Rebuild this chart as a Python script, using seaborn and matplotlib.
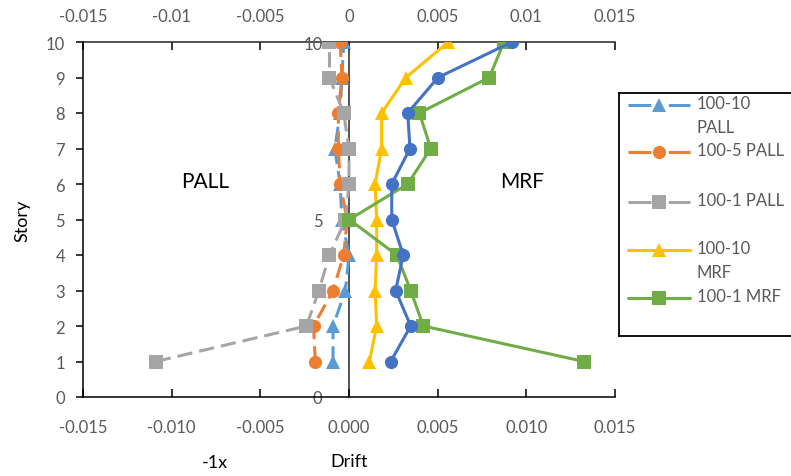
import matplotlib
matplotlib.use("Agg")
import matplotlib.pyplot as plt
import numpy as np
import seaborn as sns
from matplotlib.ticker import FuncFormatter

# story levels
stories = [1, 2, 3, 4, 5, 6, 7, 8, 9, 10]

# PALL drifts (plotted as -1x on the left side)
pall_100_10 = [0.0009, 0.0009, 0.0002, 0.0000, 0.0004, 0.0005, 0.0008, 0.0005, 0.0004, 0.0003]
pall_100_5 = [0.0019, 0.0020, 0.0009, 0.0003, 0.0001, 0.0005, 0.0006, 0.0006, 0.0004, 0.0005]
pall_100_1 = [0.0109, 0.0024, 0.0017, 0.0011, 0.0002, 0.0000, 0.0000, 0.0003, 0.0011, 0.0011]

# MRF drifts
mrf_100_10 = [0.00115, 0.00156, 0.00147, 0.00156, 0.00156, 0.00147, 0.00184, 0.00184, 0.00321, 0.0056]
mrf_100_5 = [0.00235, 0.00348, 0.00263, 0.00306, 0.00241, 0.00241, 0.00344, 0.00331, 0.00502, 0.00919]
mrf_100_1 = [0.01325, 0.00419, 0.00348, 0.00269, 0.00002, 0.00331, 0.00461, 0.00397, 0.00791, 0.00874]

x_ticks = [-0.015, -0.01, -0.005, 0.0, 0.005, 0.01, 0.015]
story_ticks = list(range(0, 11))
sec_story_ticks = [0, 5, 10]

legend_labels = ["100-10\nPALL", "100-5 PALL", "100-1 PALL", "100-10\nMRF", "100-1 MRF"]

C_LBLUE = "#5B9BD5"
C_ORANGE = "#ED7D31"
C_GRAY = "#A5A5A5"
C_YELLOW = "#FFC000"
C_GREEN = "#70AD47"
C_BLUE = "#4472C4"
TXT = "#595959"
DASH = (0, (5, 2.3))
FS = 12

sns.set_style("white")
plt.rcParams["font.family"] = ["Lato", "DejaVu Sans"]

fig = plt.figure(figsize=(7.91, 4.77), dpi=100)
ax = fig.add_axes([83 / 791, 1 - 398 / 477, (615 - 83) / 791, (398 - 43) / 477])

series = [
    (-np.array(pall_100_10), C_LBLUE, "^", DASH),
    (-np.array(pall_100_5), C_ORANGE, "o", DASH),
    (-np.array(pall_100_1), C_GRAY, "s", DASH),
    (np.array(mrf_100_10), C_YELLOW, "^", "-"),
    (np.array(mrf_100_1), C_GREEN, "s", "-"),
    (np.array(mrf_100_5), C_BLUE, "o", "-"),
]
for i, (vals, color, marker, ls) in enumerate(series):
    sns.lineplot(
        x=vals, y=stories, orient="y", sort=False, errorbar=None, ax=ax,
        color=color, marker=marker, markersize=9.5, markeredgewidth=0,
        linewidth=2.2, linestyle=ls, zorder=3 + i,
    )

ax.set_xlim(-0.015, 0.015)
ax.set_ylim(0, 10)
ax.set_xticks(x_ticks)
ax.set_yticks(story_ticks)
ax.xaxis.set_major_formatter(FuncFormatter(lambda v, p: f"{v:.3f}"))
for s in ["left", "bottom"]:
    ax.spines[s].set_color("black")
    ax.spines[s].set_linewidth(1.1)
ax.spines["right"].set_visible(False)
ax.spines["top"].set_visible(False)
ax.tick_params(axis="x", direction="in", length=6, width=1.1, color="black",
               labelcolor=TXT, labelsize=FS, pad=16, bottom=True)
ax.tick_params(axis="y", direction="out", length=5, width=1.1, color="black",
               labelcolor=TXT, labelsize=FS, pad=8, left=True)
ax.set_xlabel("Drift", fontsize=13, color="black", labelpad=13)
ax.set_ylabel("Story", fontsize=13, color="black", labelpad=11)


def general(v, p):
    s = f"{round(v, 6):g}"
    return "0" if s in ("0", "-0") else s


top = ax.secondary_xaxis("top")
top.set_xticks(x_ticks)
top.xaxis.set_major_formatter(FuncFormatter(general))
top.spines["top"].set_linewidth(1.1)
top.tick_params(direction="in", length=6, width=1.1, color="black",
                labelcolor=TXT, labelsize=FS, pad=13)

mid = ax.secondary_yaxis(0.5)
mid.set_alignment("left")
mid.set_yticks(sec_story_ticks)
mid.spines["left"].set_linewidth(1.1)
mid.tick_params(length=0, labelcolor=TXT, labelsize=FS, pad=19)

ax.text(-0.00812, 6.08, "PALL", fontsize=15, color="black", ha="center", va="center")
ax.text(0.00976, 6.08, "MRF", fontsize=15, color="black", ha="center", va="center")
fig.text(215 / 791, 1 - 463 / 477, "-1x", fontsize=13, color="black", ha="center", va="center")

# legend box (runs past the right edge like the original)
lax = fig.add_axes([619 / 791, 1 - 337 / 477, 200 / 791, (337 - 94) / 477])
lax.set_xlim(619, 819)
lax.set_ylim(337, 94)
lax.set_xticks([])
lax.set_yticks([])
for s in lax.spines.values():
    s.set_color("black")
    s.set_linewidth(1.3)
leg_style = [(C_LBLUE, "^", True), (C_ORANGE, "o", True), (C_GRAY, "s", True),
             (C_YELLOW, "^", False), (C_GREEN, "s", False)]
leg_y = [106, 153, 203, 251, 299]
for (color, marker, dashed), y, lab in zip(leg_style, leg_y, legend_labels):
    lax.plot([628, 690], [y, y], color=color, lw=2.2,
             linestyle=(0, (7.5, 5.7)) if dashed else "-")
    lax.plot([659], [y], color=color, marker=marker, markersize=9.5, markeredgewidth=0)
    lax.text(697, y - 10, lab, fontsize=FS, color=TXT, ha="left", va="top", linespacing=1.6)

fig.savefig("out.png", dpi=100)
